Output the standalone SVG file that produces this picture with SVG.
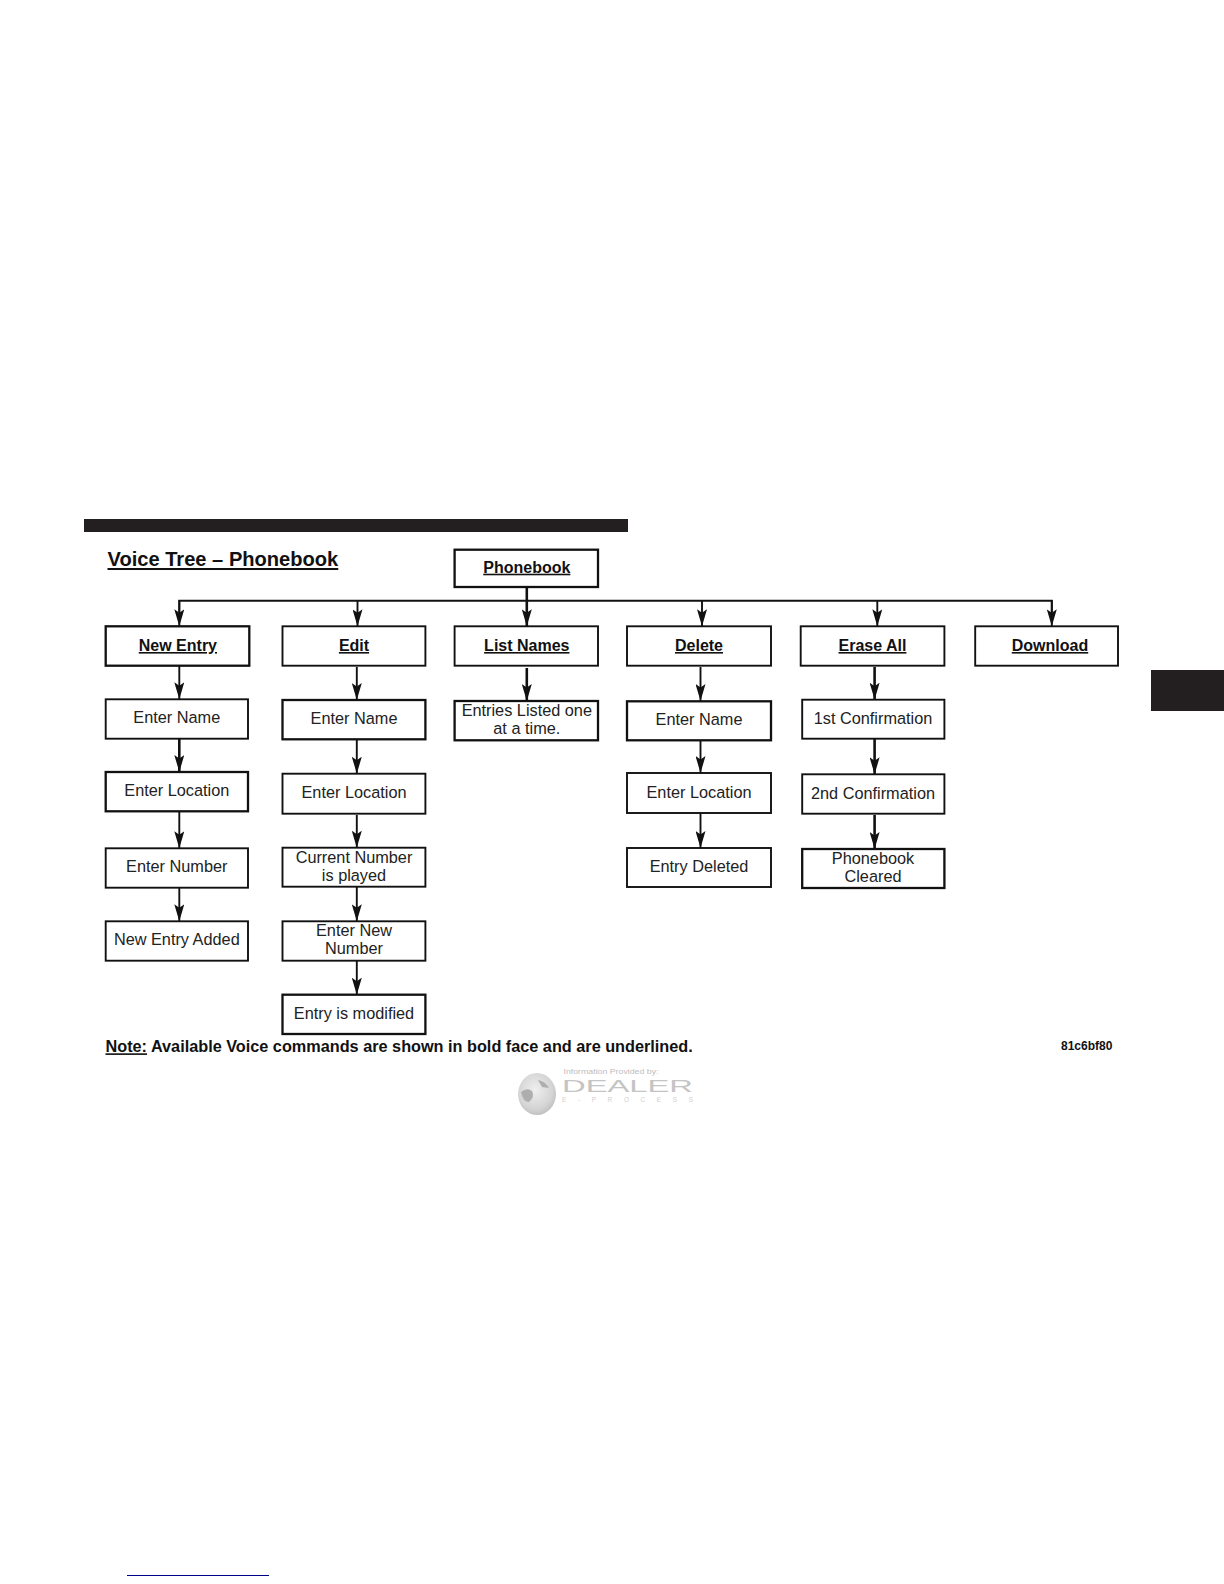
<svg xmlns="http://www.w3.org/2000/svg" width="1224" height="1584" viewBox="0 0 1224 1584">
<style>
text{font-family:"Liberation Sans",Arial,sans-serif;fill:#111}
.n rect{fill:#fff;stroke:#111;stroke-width:1.9}
.n rect.k{stroke-width:2.3}
.l{font-size:16.300px;text-anchor:middle;fill:#222}
.b{font-size:16px;font-weight:700;text-anchor:middle;text-decoration:underline;text-decoration-color:#555}
.c line,.c path{stroke:#111;stroke-width:1.9;fill:none}
.c .t{stroke-width:2.600}
.c line{marker-end:url(#a)}
</style>
<defs>
<marker id="a" viewBox="0 0 17 10" refX="17" refY="5" markerWidth="17" markerHeight="10" markerUnits="userSpaceOnUse" orient="auto"><path d="M17,5 L0,0 L3.500,5 L0,10 Z" fill="#111"/></marker>
<radialGradient id="g" cx="0.45" cy="0.4" r="0.65"><stop offset="0" stop-color="#efefef"/><stop offset="0.7" stop-color="#d4d4d4"/><stop offset="1" stop-color="#bcbcbc"/></radialGradient>
</defs>
<rect width="1224" height="1584" fill="#fff"/>
<rect x="84" y="519" width="544" height="13" fill="#231f20"/>
<rect x="1151" y="670" width="73" height="41" fill="#231f20"/>
<text x="107.500" y="566" font-size="20.100" font-weight="700" style="text-decoration:underline;text-decoration-color:#666">Voice Tree – Phonebook</text>
<g class="c" id="connectors">
<path class="t" d="M526.800 587V601"/>
<path d="M179.300 612V600.700H1051.800V612"/>
<line x1="179.300" y1="600" x2="179.300" y2="626.300"/>
<line x1="357.500" y1="600" x2="357.500" y2="626.300"/>
<line class="t" x1="526.800" y1="600" x2="526.800" y2="626.300"/>
<line x1="702" y1="600" x2="702" y2="626.300"/>
<line x1="877.300" y1="600" x2="877.300" y2="626.300"/>
<line x1="1051.800" y1="600" x2="1051.800" y2="626.300"/>
<line x1="179.300" y1="666" x2="179.300" y2="699.300"/>
<line class="t" x1="179.300" y1="739" x2="179.300" y2="772"/>
<line x1="179.300" y1="811" x2="179.300" y2="848.300"/>
<line x1="179.300" y1="888" x2="179.300" y2="921.300"/>
<line x1="356.800" y1="667" x2="356.800" y2="700"/>
<line x1="356.800" y1="740" x2="356.800" y2="773.700"/>
<line x1="356.800" y1="815" x2="356.800" y2="847.700"/>
<line x1="356.800" y1="887" x2="356.800" y2="921.300"/>
<line x1="356.800" y1="961" x2="356.800" y2="994.700"/>
<line class="t" x1="526.800" y1="668" x2="526.800" y2="701"/>
<line x1="700.500" y1="667" x2="700.500" y2="701"/>
<line x1="700.500" y1="741" x2="700.500" y2="773"/>
<line x1="700.500" y1="813" x2="700.500" y2="848"/>
<line class="t" x1="874.600" y1="667" x2="874.600" y2="699.700"/>
<line class="t" x1="874.600" y1="739" x2="874.600" y2="774.300"/>
<line class="t" x1="874.600" y1="815" x2="874.600" y2="849"/>
</g>
<g class="n" id="phonebook"><rect class="k" x="454.600" y="549.700" width="143.400" height="37.300"/><text class="b" x="526.800" y="572.700">Phonebook</text></g>
<g class="n" id="new-entry"><rect class="k" x="105.700" y="626.300" width="143.600" height="39.400"/><text class="b" x="177.900" y="651">New Entry</text></g>
<g class="n" id="edit"><rect x="282.500" y="626.300" width="142.900" height="39.400"/><text class="b" x="354" y="651">Edit</text></g>
<g class="n" id="list-names"><rect x="454.600" y="626.300" width="143.400" height="39.400"/><text class="b" x="526.800" y="651">List Names</text></g>
<g class="n" id="delete"><rect x="627" y="626.300" width="144" height="39.400"/><text class="b" x="699" y="651">Delete</text></g>
<g class="n" id="erase-all"><rect x="800.700" y="626.300" width="143.700" height="39.400"/><text class="b" x="872.500" y="651">Erase All</text></g>
<g class="n" id="download"><rect x="975.200" y="626.300" width="142.800" height="39.400"/><text class="b" x="1050" y="651">Download</text></g>
<g class="n" id="ne-name"><rect x="105.700" y="699.300" width="142.300" height="39.400"/><text class="l" x="176.800" y="723.300">Enter Name</text></g>
<g class="n" id="ne-location"><rect class="k" x="105.700" y="772" width="142.300" height="39.300"/><text class="l" x="176.800" y="796">Enter Location</text></g>
<g class="n" id="ne-number"><rect x="105.700" y="848.300" width="142.300" height="39.400"/><text class="l" x="176.800" y="872.300">Enter Number</text></g>
<g class="n" id="ne-added"><rect x="105.700" y="921.300" width="142.300" height="39.400"/><text class="l" x="176.800" y="945">New Entry Added</text></g>
<g class="n" id="ed-name"><rect class="k" x="282.500" y="700" width="142.900" height="39.300"/><text class="l" x="354" y="724">Enter Name</text></g>
<g class="n" id="ed-location"><rect x="282.500" y="773.700" width="142.900" height="40"/><text class="l" x="354" y="798">Enter Location</text></g>
<g class="n" id="ed-current"><rect x="282.500" y="847.700" width="142.900" height="39"/><text class="l" x="354" y="862.700">Current Number</text><text class="l" x="354" y="881">is played</text></g>
<g class="n" id="ed-new"><rect x="282.500" y="921.300" width="142.900" height="39.400"/><text class="l" x="354" y="936">Enter New</text><text class="l" x="354" y="954">Number</text></g>
<g class="n" id="ed-modified"><rect class="k" x="282.500" y="994.700" width="142.900" height="39.300"/><text class="l" x="354" y="1018.700">Entry is modified</text></g>
<g class="n" id="ln-entries"><rect class="k" x="454.600" y="701" width="143.400" height="39.300"/><text class="l" x="526.800" y="716">Entries Listed one</text><text class="l" x="526.800" y="734">at a time.</text></g>
<g class="n" id="de-name"><rect class="k" x="627" y="701.300" width="144" height="39"/><text class="l" x="699" y="725">Enter Name</text></g>
<g class="n" id="de-location"><rect x="627" y="773" width="144" height="40"/><text class="l" x="699" y="798">Enter Location</text></g>
<g class="n" id="de-deleted"><rect x="627" y="848" width="144" height="39"/><text class="l" x="699" y="872">Entry Deleted</text></g>
<g class="n" id="ea-first"><rect x="802.200" y="699.700" width="142.200" height="39"/><text class="l" x="873" y="724">1st Confirmation</text></g>
<g class="n" id="ea-second"><rect x="802.200" y="774.300" width="142.200" height="39.400"/><text class="l" x="873" y="798.700">2nd Confirmation</text></g>
<g class="n" id="ea-cleared"><rect class="k" x="802.200" y="849" width="142.200" height="39"/><text class="l" x="873" y="864">Phonebook</text><text class="l" x="873" y="882">Cleared</text></g>
<text x="105.500" y="1052.300" font-size="16.250" font-weight="700"><tspan text-decoration="underline">Note:</tspan> Available Voice commands are shown in bold face and are underlined.</text>
<text x="1061" y="1050" font-size="12" font-weight="700">81c6bf80</text>
<g id="logo">
<ellipse cx="537" cy="1094" rx="19" ry="21" fill="url(#g)"/>
<path d="M521 1092q6-5 11-1q3 6-3 11q-6 0-8-10zM538 1080q7 1 11 8l-7-1z" fill="#aeaeae"/>
<text x="563.500" y="1074" font-size="8" style="fill:#bdbdbd" textLength="95" lengthAdjust="spacingAndGlyphs">Information Provided by:</text>
<text x="562" y="1092" font-size="16" style="fill:#c4c4c4" textLength="131" lengthAdjust="spacingAndGlyphs">DEALER</text>
<text x="562" y="1102" font-size="6.500" style="fill:#d0d0d0" textLength="131">E-PROCESS</text>
</g>
<line x1="127" y1="1575.500" x2="269" y2="1575.500" stroke="#00008b" stroke-width="1"/>
</svg>
